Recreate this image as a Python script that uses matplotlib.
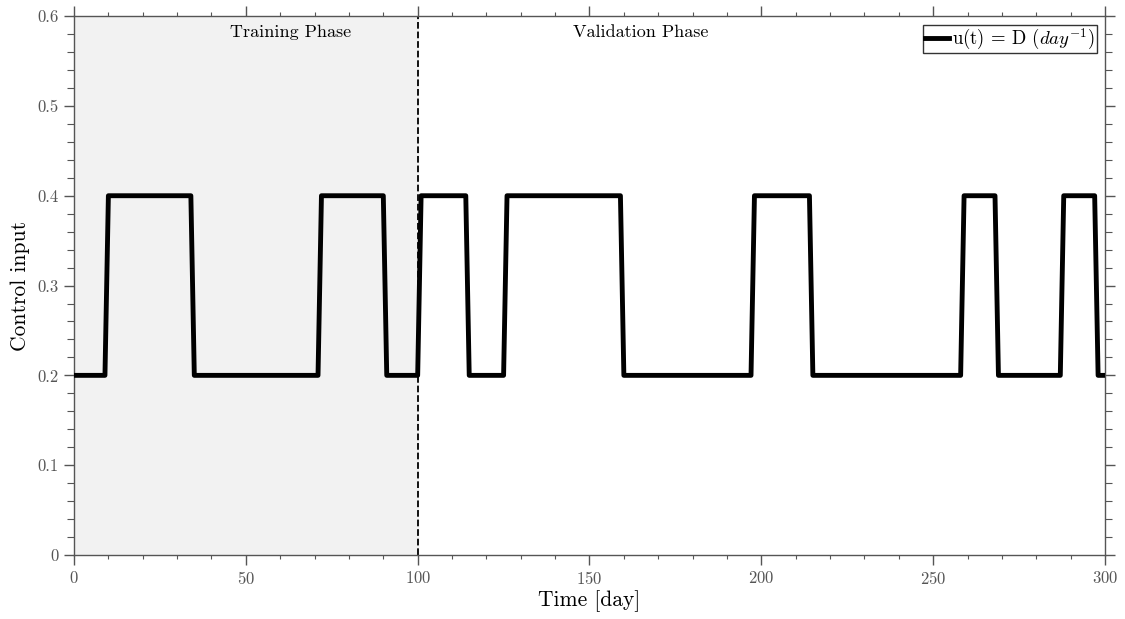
import numpy as np
import matplotlib.pyplot as plt
from matplotlib.ticker import MultipleLocator

plt.rcParams['font.family'] = 'serif'
plt.rcParams['font.serif'] = ['cmr10', 'DejaVu Serif']
plt.rcParams['mathtext.fontset'] = 'cm'
plt.rcParams['axes.formatter.use_mathtext'] = True

# control input u(t) = D, knots of the piecewise-linear (daily sampled) signal
t_days = [0, 9, 10, 34, 35, 71, 72, 90, 91, 100, 101, 114, 115, 125, 126,
          159, 160, 197, 198, 214, 215, 258, 259, 268, 269, 287, 288, 297, 298, 300]
u_vals = [0.2, 0.2, 0.4, 0.4, 0.2, 0.2, 0.4, 0.4, 0.2, 0.2, 0.4, 0.4, 0.2, 0.2, 0.4,
          0.4, 0.2, 0.2, 0.4, 0.4, 0.2, 0.2, 0.4, 0.4, 0.2, 0.2, 0.4, 0.4, 0.2, 0.2]

t_split = 100
phase_labels = ['Training Phase', 'Validation Phase']

axis_gray = '#555555'

fig = plt.figure(figsize=(11.25, 6.19), dpi=100)
ax = fig.add_axes([0.0658, 0.1034, 0.9164, 0.8706])

ax.axvspan(0, t_split, color='#f2f2f2', zorder=0)
ax.axvline(t_split, color='black', ls='--', lw=1.3, zorder=1)
ax.plot(t_days, u_vals, color='black', lw=3.5, solid_joinstyle='round',
        label=r'u(t) = D $(day^{-1})$', zorder=3)

ax.text(63, 0.582, phase_labels[0], ha='center', va='center', fontsize=13)
ax.text(165, 0.582, phase_labels[1], ha='center', va='center', fontsize=13)

ax.set_xlim(0, 300)
ax.set_ylim(0, 0.6)
ax.xaxis.set_major_locator(MultipleLocator(50))
ax.xaxis.set_minor_locator(MultipleLocator(10))
ax.yaxis.set_major_locator(MultipleLocator(0.1))
ax.yaxis.set_minor_locator(MultipleLocator(0.02))
ax.set_yticks([0, 0.1, 0.2, 0.3, 0.4, 0.5, 0.6])
ax.set_yticklabels(['0', '0.1', '0.2', '0.3', '0.4', '0.5', '0.6'])

ax.tick_params(which='both', direction='out', top=True, right=True,
               color=axis_gray, labelcolor=axis_gray, labelsize=12)
ax.tick_params(which='major', length=7, width=1, pad=4)
ax.tick_params(axis='x', which='minor', length=3, width=0.8)
ax.tick_params(axis='y', which='minor', length=5, width=0.8)
for sp in ax.spines.values():
    sp.set_color(axis_gray)
    sp.set_linewidth(1)

ax.set_xlabel('Time [day]', fontsize=15.5, labelpad=2)
ax.set_ylabel('Control input', fontsize=15.5, labelpad=5)

leg = ax.legend(loc='upper right', fontsize=13.5, frameon=True, fancybox=False,
                edgecolor='black', handlelength=1.3, handletextpad=0.15,
                borderpad=0.1, borderaxespad=0.45)
leg.get_frame().set_linewidth(1)

fig.savefig('out.png', dpi=100)
